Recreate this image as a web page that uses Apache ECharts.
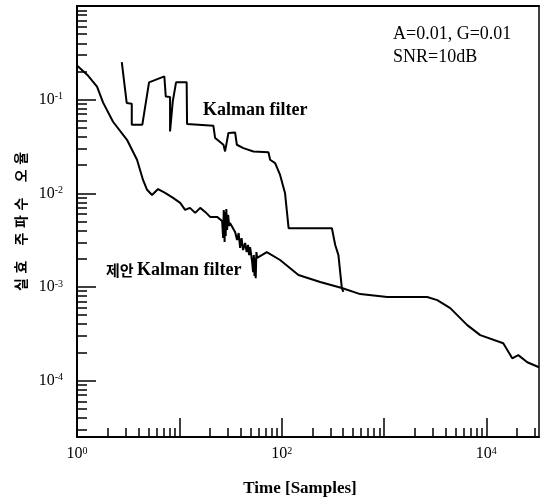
<!DOCTYPE html>
<html><head><meta charset="utf-8">
<script src="https://cdn.jsdelivr.net/npm/echarts@6/dist/echarts.min.js"></script>
<style>html,body{margin:0;padding:0;background:#fff}#c{width:540px;height:502px}</style>
</head><body><div id="c"></div>
<script>
// Proposed Kalman filter curve (samples, error)
const propX = [1, 1.28, 1.57, 1.80, 2.25, 3.08, 3.86, 4.42, 4.84, 5.41, 6.20, 7.26, 8.69, 10.2, 11.4, 12.7, 14.3, 16.0, 17.9, 20.0, 23.4,
  26.2, 26.8, 27.2, 27.7, 28.0, 28.4, 28.8, 29.3, 30.0, 30.7, 31.3,
  35.1, 36.7, 38.0, 39.3, 40.6, 42.0, 44.0, 45.5, 47.0, 48.1, 49.2,
  51.5, 52.6, 53.5, 54.3, 55.1, 55.8, 56.7, 57.6,
  64.0, 71.6, 96.6, 146, 238, 388, 586, 1076, 2650, 3319, 4446, 6520, 8730, 14660, 17950, 20550, 25180, 32768];
const propY = [0.231, 0.181, 0.138, 0.093, 0.0581, 0.0373, 0.0228, 0.0139, 0.0109, 0.0096, 0.0111, 0.0101, 0.00893, 0.0079, 0.00665, 0.00699, 0.00618, 0.00699, 0.00633, 0.0056, 0.0056,
  0.00507, 0.00333, 0.00665, 0.00302, 0.00633, 0.0035, 0.00681, 0.00406, 0.00588, 0.00448, 0.00482,
  0.00386, 0.00318, 0.00377, 0.00261, 0.00333, 0.00248, 0.00295, 0.00236, 0.00281, 0.00219, 0.00267,
  0.00185, 0.00144, 0.00219, 0.00131, 0.00204, 0.00124, 0.00236, 0.00204,
  0.00219, 0.00236, 0.00194, 0.00134, 0.00113, 0.000973, 0.000839, 0.00078, 0.00078, 0.000723, 0.000594, 0.000391, 0.000306, 0.000251, 0.000173, 0.000187, 0.000157, 0.000139];
// Conventional Kalman filter curve
const kalX = [2.74, 3.06, 3.43, 3.43, 4.35, 5.06, 7.14, 7.37, 8.12, 8.12, 8.63, 9.29, 11.8, 11.9, 21.5, 22.4, 27.0, 28.0, 30.2, 35.1, 36.5, 42.3, 53.0, 74.3, 77.2, 86.4, 96.6, 108, 117, 310, 334, 359, 388, 402];
const kalY = [0.251, 0.0922, 0.0906, 0.054, 0.054, 0.153, 0.177, 0.108, 0.107, 0.0458, 0.0959, 0.153, 0.153, 0.0549, 0.0527, 0.0389, 0.033, 0.028, 0.0441, 0.0447, 0.033, 0.0304, 0.028, 0.0275, 0.0228, 0.021, 0.0157, 0.01, 0.00424, 0.00424, 0.00281, 0.00219, 0.000966, 0.000887];

const xRange = [1, 32768];
const yRange = [2.5e-5, 1];
const xLabelValues = [1, 100, 10000];
const yLabelValues = [1e-4, 1e-3, 1e-2, 1e-1];
const xMajorTicks = [10, 100, 1000, 10000];
const yMajorTicks = [1e-4, 1e-3, 1e-2, 1e-1];
const xMinorTicks = [2,3,4,5,6,7,8,9,20,30,40,50,60,70,80,90,200,300,400,500,600,700,800,900,2000,3000,4000,5000,6000,7000,8000,9000,20000,30000];
const yMinorTicks = [3e-5,4e-5,5e-5,6e-5,7e-5,8e-5,9e-5,2e-4,3e-4,4e-4,5e-4,6e-4,7e-4,8e-4,9e-4,2e-3,3e-3,4e-3,5e-3,6e-3,7e-3,8e-3,9e-3,0.02,0.03,0.04,0.05,0.06,0.07,0.08,0.09,0.2,0.3,0.4,0.5,0.6,0.7,0.8,0.9];

const xTitle = 'Time [Samples]';
const yTitle = '실\u2004효\u2004\u2002\u2005주\u2004파\u2004수\u2004\u2002\u2005오\u2004율';
const labelKalman = 'Kalman filter';
const labelProposedKo = '제안';
const labelProposedEn = 'Kalman filter';
const paramLine1 = 'A=0.01, G=0.01';
const paramLine2 = 'SNR=10dB';

const SERIF = '"Liberation Serif", "DejaVu Serif", serif';
const KO = '"Noto Sans CJK KR", sans-serif';

function zip(a, b) { return a.map((v, i) => [v, b[i]]); }
function powLabel(v) {
  const e = Math.round(Math.log10(v));
  return '{b|10}{s|' + e + '}';
}
const richLab = {
  b: { fontFamily: SERIF, fontSize: 16, color: '#000' },
  s: { fontFamily: SERIF, fontSize: 10, color: '#000', verticalAlign: 'top' }
};

const chart = echarts.init(document.getElementById('c'), null, { renderer: 'canvas' });
const blackLine = { color: '#000', width: 2 };

chart.setOption({
  animation: false,
  backgroundColor: '#fff',
  grid: { left: 77, right: 1, top: 6, bottom: 65 },
  xAxis: [
    {
      type: 'log', min: xRange[0], max: xRange[1], position: 'bottom',
      axisLine: { show: true, onZero: false, lineStyle: blackLine },
      axisTick: { show: true, inside: true, length: 19, customValues: xMajorTicks, lineStyle: { color: '#000', width: 1.5 } },
      axisLabel: { show: true, margin: 9, customValues: xLabelValues, formatter: powLabel, rich: richLab },
      splitLine: { show: false },
      name: xTitle, nameLocation: 'middle', nameGap: 43,
      nameTextStyle: { fontFamily: SERIF, fontSize: 17, fontWeight: 'bold', color: '#000', padding: [0, 16, 0, 0] }
    },
    {
      type: 'log', min: xRange[0], max: xRange[1], position: 'bottom',
      axisLine: { show: false, onZero: false },
      axisTick: { show: true, inside: true, length: 9, customValues: xMinorTicks, lineStyle: { color: '#000', width: 1.5 } },
      axisLabel: { show: false }, splitLine: { show: false }
    },
    {
      type: 'log', min: xRange[0], max: xRange[1], position: 'top',
      axisLine: { show: true, onZero: false, lineStyle: blackLine },
      axisTick: { show: false }, axisLabel: { show: false }, splitLine: { show: false }
    }
  ],
  yAxis: [
    {
      type: 'log', min: yRange[0], max: yRange[1], position: 'left',
      axisLine: { show: true, onZero: false, lineStyle: blackLine },
      axisTick: { show: true, inside: true, length: 19, customValues: yMajorTicks, lineStyle: { color: '#000', width: 1.5 } },
      axisLabel: { show: true, margin: 14, customValues: yLabelValues, formatter: powLabel, rich: richLab },
      splitLine: { show: false },
      name: yTitle, nameLocation: 'middle', nameRotate: 90, nameGap: 47,
      nameTextStyle: { fontFamily: KO, fontSize: 14, fontWeight: 'bold', color: '#000' }
    },
    {
      type: 'log', min: yRange[0], max: yRange[1], position: 'left',
      axisLine: { show: false, onZero: false },
      axisTick: { show: true, inside: true, length: 10, customValues: yMinorTicks, lineStyle: { color: '#000', width: 1.5 } },
      axisLabel: { show: false }, splitLine: { show: false }
    },
    {
      type: 'log', min: yRange[0], max: yRange[1], position: 'right',
      axisLine: { show: true, onZero: false, lineStyle: { color: '#000', width: 1.5 } },
      axisTick: { show: false }, axisLabel: { show: false }, splitLine: { show: false }
    }
  ],
  series: [
    {
      name: 'proposed', type: 'line', xAxisIndex: 0, yAxisIndex: 0,
      data: zip(propX, propY), showSymbol: false, symbol: 'none',
      lineStyle: { color: '#000', width: 2 }, silent: true
    },
    {
      name: 'kalman', type: 'line', xAxisIndex: 0, yAxisIndex: 0,
      data: zip(kalX, kalY), showSymbol: false, symbol: 'none',
      lineStyle: { color: '#000', width: 2 }, silent: true
    }
  ],
  graphic: [
    {
      type: 'text', x: 203, y: 110, silent: true,
      style: { text: labelKalman, fontFamily: SERIF, fontSize: 18, fontWeight: 'bold', fill: '#000',
               align: 'left', verticalAlign: 'middle', textAlign: 'left', textVerticalAlign: 'middle' }
    },
    {
      type: 'text', x: 106, y: 270, silent: true,
      style: {
        text: '{k|' + labelProposedKo + '} {e|' + labelProposedEn + '}',
        rich: {
          k: { fontFamily: KO, fontSize: 15, fontWeight: 'bold', fill: '#000' },
          e: { fontFamily: SERIF, fontSize: 18, fontWeight: 'bold', fill: '#000' }
        },
        fill: '#000', align: 'left', verticalAlign: 'middle', textAlign: 'left', textVerticalAlign: 'middle'
      }
    },
    {
      type: 'text', x: 393, y: 34.5, silent: true,
      style: { text: paramLine1, fontFamily: SERIF, fontSize: 18, fill: '#000',
               align: 'left', verticalAlign: 'middle', textAlign: 'left', textVerticalAlign: 'middle' }
    },
    {
      type: 'text', x: 393, y: 57, silent: true,
      style: { text: paramLine2, fontFamily: SERIF, fontSize: 18, fill: '#000',
               align: 'left', verticalAlign: 'middle', textAlign: 'left', textVerticalAlign: 'middle' }
    }
  ]
});
</script>
</body></html>
